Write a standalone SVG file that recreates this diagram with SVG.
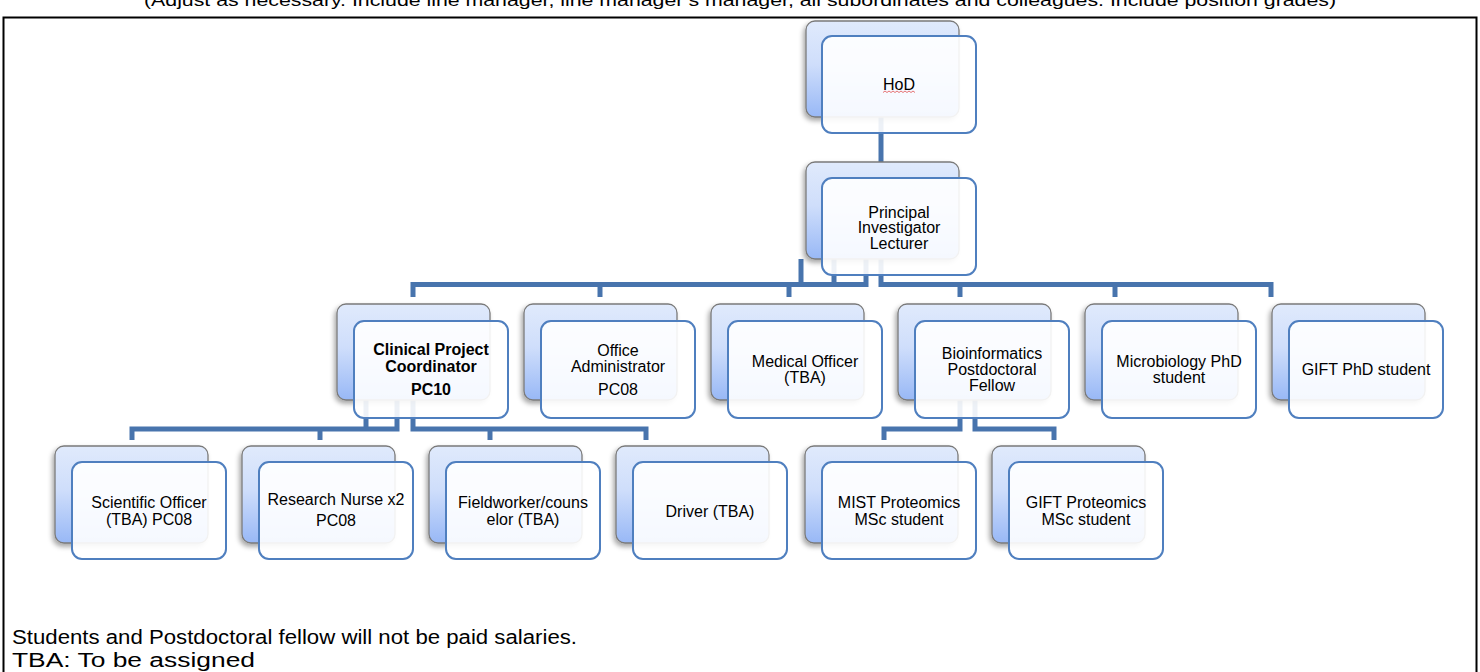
<svg xmlns="http://www.w3.org/2000/svg" width="1480" height="672" viewBox="0 0 1480 672">
<defs>
<linearGradient id="g" x1="0" y1="0" x2="0" y2="1">
<stop offset="0" stop-color="#e0eafc"/>
<stop offset="0.45" stop-color="#cfdefb"/>
<stop offset="1" stop-color="#98b8f6"/>
</linearGradient>
<filter id="sh" x="-10%" y="-10%" width="125%" height="130%">
<feDropShadow dx="-2" dy="3" stdDeviation="2.5" flood-color="#000" flood-opacity="0.35"/>
</filter>
<style>
.back{fill:url(#g);stroke:#7a7a7a;stroke-width:1.3;filter:url(#sh)}
.front{fill:#fff;fill-opacity:0.9;stroke:#4f7fbf;stroke-width:2}
.conn{fill:none;stroke:#4874ad;stroke-width:5;stroke-linejoin:miter;stroke-linecap:butt}
.t{font-family:"Liberation Sans",Arial,sans-serif;font-size:16px;text-anchor:middle;fill:#000}
.b{font-weight:bold;font-size:16px}
.f{font-family:"Liberation Sans",Arial,sans-serif;fill:#000}
</style>
</defs>
<rect x="0" y="0" width="1480" height="672" fill="#fff"/>
<text class="f" x="144" y="6" font-size="16" textLength="1192" lengthAdjust="spacingAndGlyphs">(Adjust as necessary. Include line manager, line manager’s manager, all subordinates and colleagues. Include position grades)</text>
<rect x="3.5" y="17.5" width="1473" height="680" fill="none" stroke="#000" stroke-width="2"/>

<g id="connectors">
<path class="conn" d="M881 117V162"/>
<path class="conn" d="M413 297V284.5H866V259"/>
<path class="conn" d="M801 259V284.5"/>
<path class="conn" d="M834 259V284.5"/>
<path class="conn" d="M600 284.5V297"/>
<path class="conn" d="M789 284.5V297"/>
<path class="conn" d="M1271 297V284.5H881V259"/>
<path class="conn" d="M960 284.5V297"/>
<path class="conn" d="M1115 284.5V297"/>
<path class="conn" d="M132 440V429H397V400"/>
<path class="conn" d="M366 400V429"/>
<path class="conn" d="M646 440V429H413V400"/>
<path class="conn" d="M320 429V440"/>
<path class="conn" d="M490 429V440"/>
<path class="conn" d="M884 440V429H960V400"/>
<path class="conn" d="M1054 440V429H975V400"/>
</g>

<g id="hod">
<rect class="back" x="806" y="21" width="153" height="96" rx="9"/>
<rect class="front" x="822" y="36" width="154" height="97" rx="10"/>
<text class="t" x="899" y="89.5">HoD</text>
<path d="M883 92.5l2-1.5 2 1.5 2-1.5 2 1.5 2-1.5 2 1.5 2-1.5 2 1.5 2-1.5 2 1.5 2-1.5 2 1.5 2-1.5 2 1.5 2-1.5 2 1.5" fill="none" stroke="#e05050" stroke-width="0.8"/>
</g>

<g id="pi">
<rect class="back" x="806" y="162" width="153" height="97" rx="9"/>
<rect class="front" x="822" y="178" width="154" height="97" rx="10"/>
<text class="t" x="899" y="217.5">Principal</text>
<text class="t" x="899" y="233">Investigator</text>
<text class="t" x="899" y="248.5">Lecturer</text>
</g>

<g id="cpc">
<rect class="back" x="337" y="304" width="153" height="96" rx="9"/>
<rect class="front" x="354" y="321" width="154" height="97" rx="10"/>
<text class="t b" x="431" y="354.5">Clinical Project</text>
<text class="t b" x="431" y="371.5">Coordinator</text>
<text class="t b" x="431" y="394.5">PC10</text>
</g>

<g id="office">
<rect class="back" x="524" y="304" width="153" height="96" rx="9"/>
<rect class="front" x="541" y="321" width="154" height="97" rx="10"/>
<text class="t" x="618" y="355.5">Office</text>
<text class="t" x="618" y="371.5">Administrator</text>
<text class="t" x="618" y="394.5">PC08</text>
</g>

<g id="medical">
<rect class="back" x="711" y="304" width="153" height="96" rx="9"/>
<rect class="front" x="728" y="321" width="154" height="97" rx="10"/>
<text class="t" x="805" y="366.5">Medical Officer</text>
<text class="t" x="805" y="382.5">(TBA)</text>
</g>

<g id="bioinf">
<rect class="back" x="898" y="304" width="153" height="96" rx="9"/>
<rect class="front" x="915" y="321" width="154" height="97" rx="10"/>
<text class="t" x="992" y="358.5">Bioinformatics</text>
<text class="t" x="992" y="375">Postdoctoral</text>
<text class="t" x="992" y="391">Fellow</text>
</g>

<g id="micro">
<rect class="back" x="1085" y="304" width="153" height="96" rx="9"/>
<rect class="front" x="1102" y="321" width="154" height="97" rx="10"/>
<text class="t" x="1179" y="366.5">Microbiology PhD</text>
<text class="t" x="1179" y="382.5">student</text>
</g>

<g id="giftphd">
<rect class="back" x="1272" y="304" width="153" height="96" rx="9"/>
<rect class="front" x="1289" y="321" width="154" height="97" rx="10"/>
<text class="t" x="1366" y="374.5">GIFT PhD student</text>
</g>

<g id="sci">
<rect class="back" x="55" y="446" width="153" height="97" rx="9"/>
<rect class="front" x="72" y="462" width="154" height="97" rx="10"/>
<text class="t" x="149" y="507.5">Scientific Officer</text>
<text class="t" x="149" y="524.5">(TBA) PC08</text>
</g>

<g id="nurse">
<rect class="back" x="242" y="446" width="153" height="97" rx="9"/>
<rect class="front" x="259" y="462" width="154" height="97" rx="10"/>
<text class="t" x="336" y="505">Research Nurse x2</text>
<text class="t" x="336" y="525.5">PC08</text>
</g>

<g id="field">
<rect class="back" x="429" y="446" width="153" height="97" rx="9"/>
<rect class="front" x="446" y="462" width="154" height="97" rx="10"/>
<text class="t" x="523" y="507.5">Fieldworker/couns</text>
<text class="t" x="523" y="524.5">elor (TBA)</text>
</g>

<g id="driver">
<rect class="back" x="616" y="446" width="153" height="97" rx="9"/>
<rect class="front" x="633" y="462" width="154" height="97" rx="10"/>
<text class="t" x="710" y="516.5">Driver (TBA)</text>
</g>

<g id="mist">
<rect class="back" x="805" y="446" width="153" height="97" rx="9"/>
<rect class="front" x="822" y="462" width="154" height="97" rx="10"/>
<text class="t" x="899" y="507.5">MIST Proteomics</text>
<text class="t" x="899" y="524.5">MSc student</text>
</g>

<g id="giftprot">
<rect class="back" x="992" y="446" width="153" height="97" rx="9"/>
<rect class="front" x="1009" y="462" width="154" height="97" rx="10"/>
<text class="t" x="1086" y="507.5">GIFT Proteomics</text>
<text class="t" x="1086" y="524.5">MSc student</text>
</g>

<text class="f" x="12" y="644" font-size="20" textLength="565" lengthAdjust="spacingAndGlyphs">Students and Postdoctoral fellow will not be paid salaries.</text>
<text class="f" x="12" y="667" font-size="20" textLength="243" lengthAdjust="spacingAndGlyphs">TBA: To be assigned</text>
</svg>
